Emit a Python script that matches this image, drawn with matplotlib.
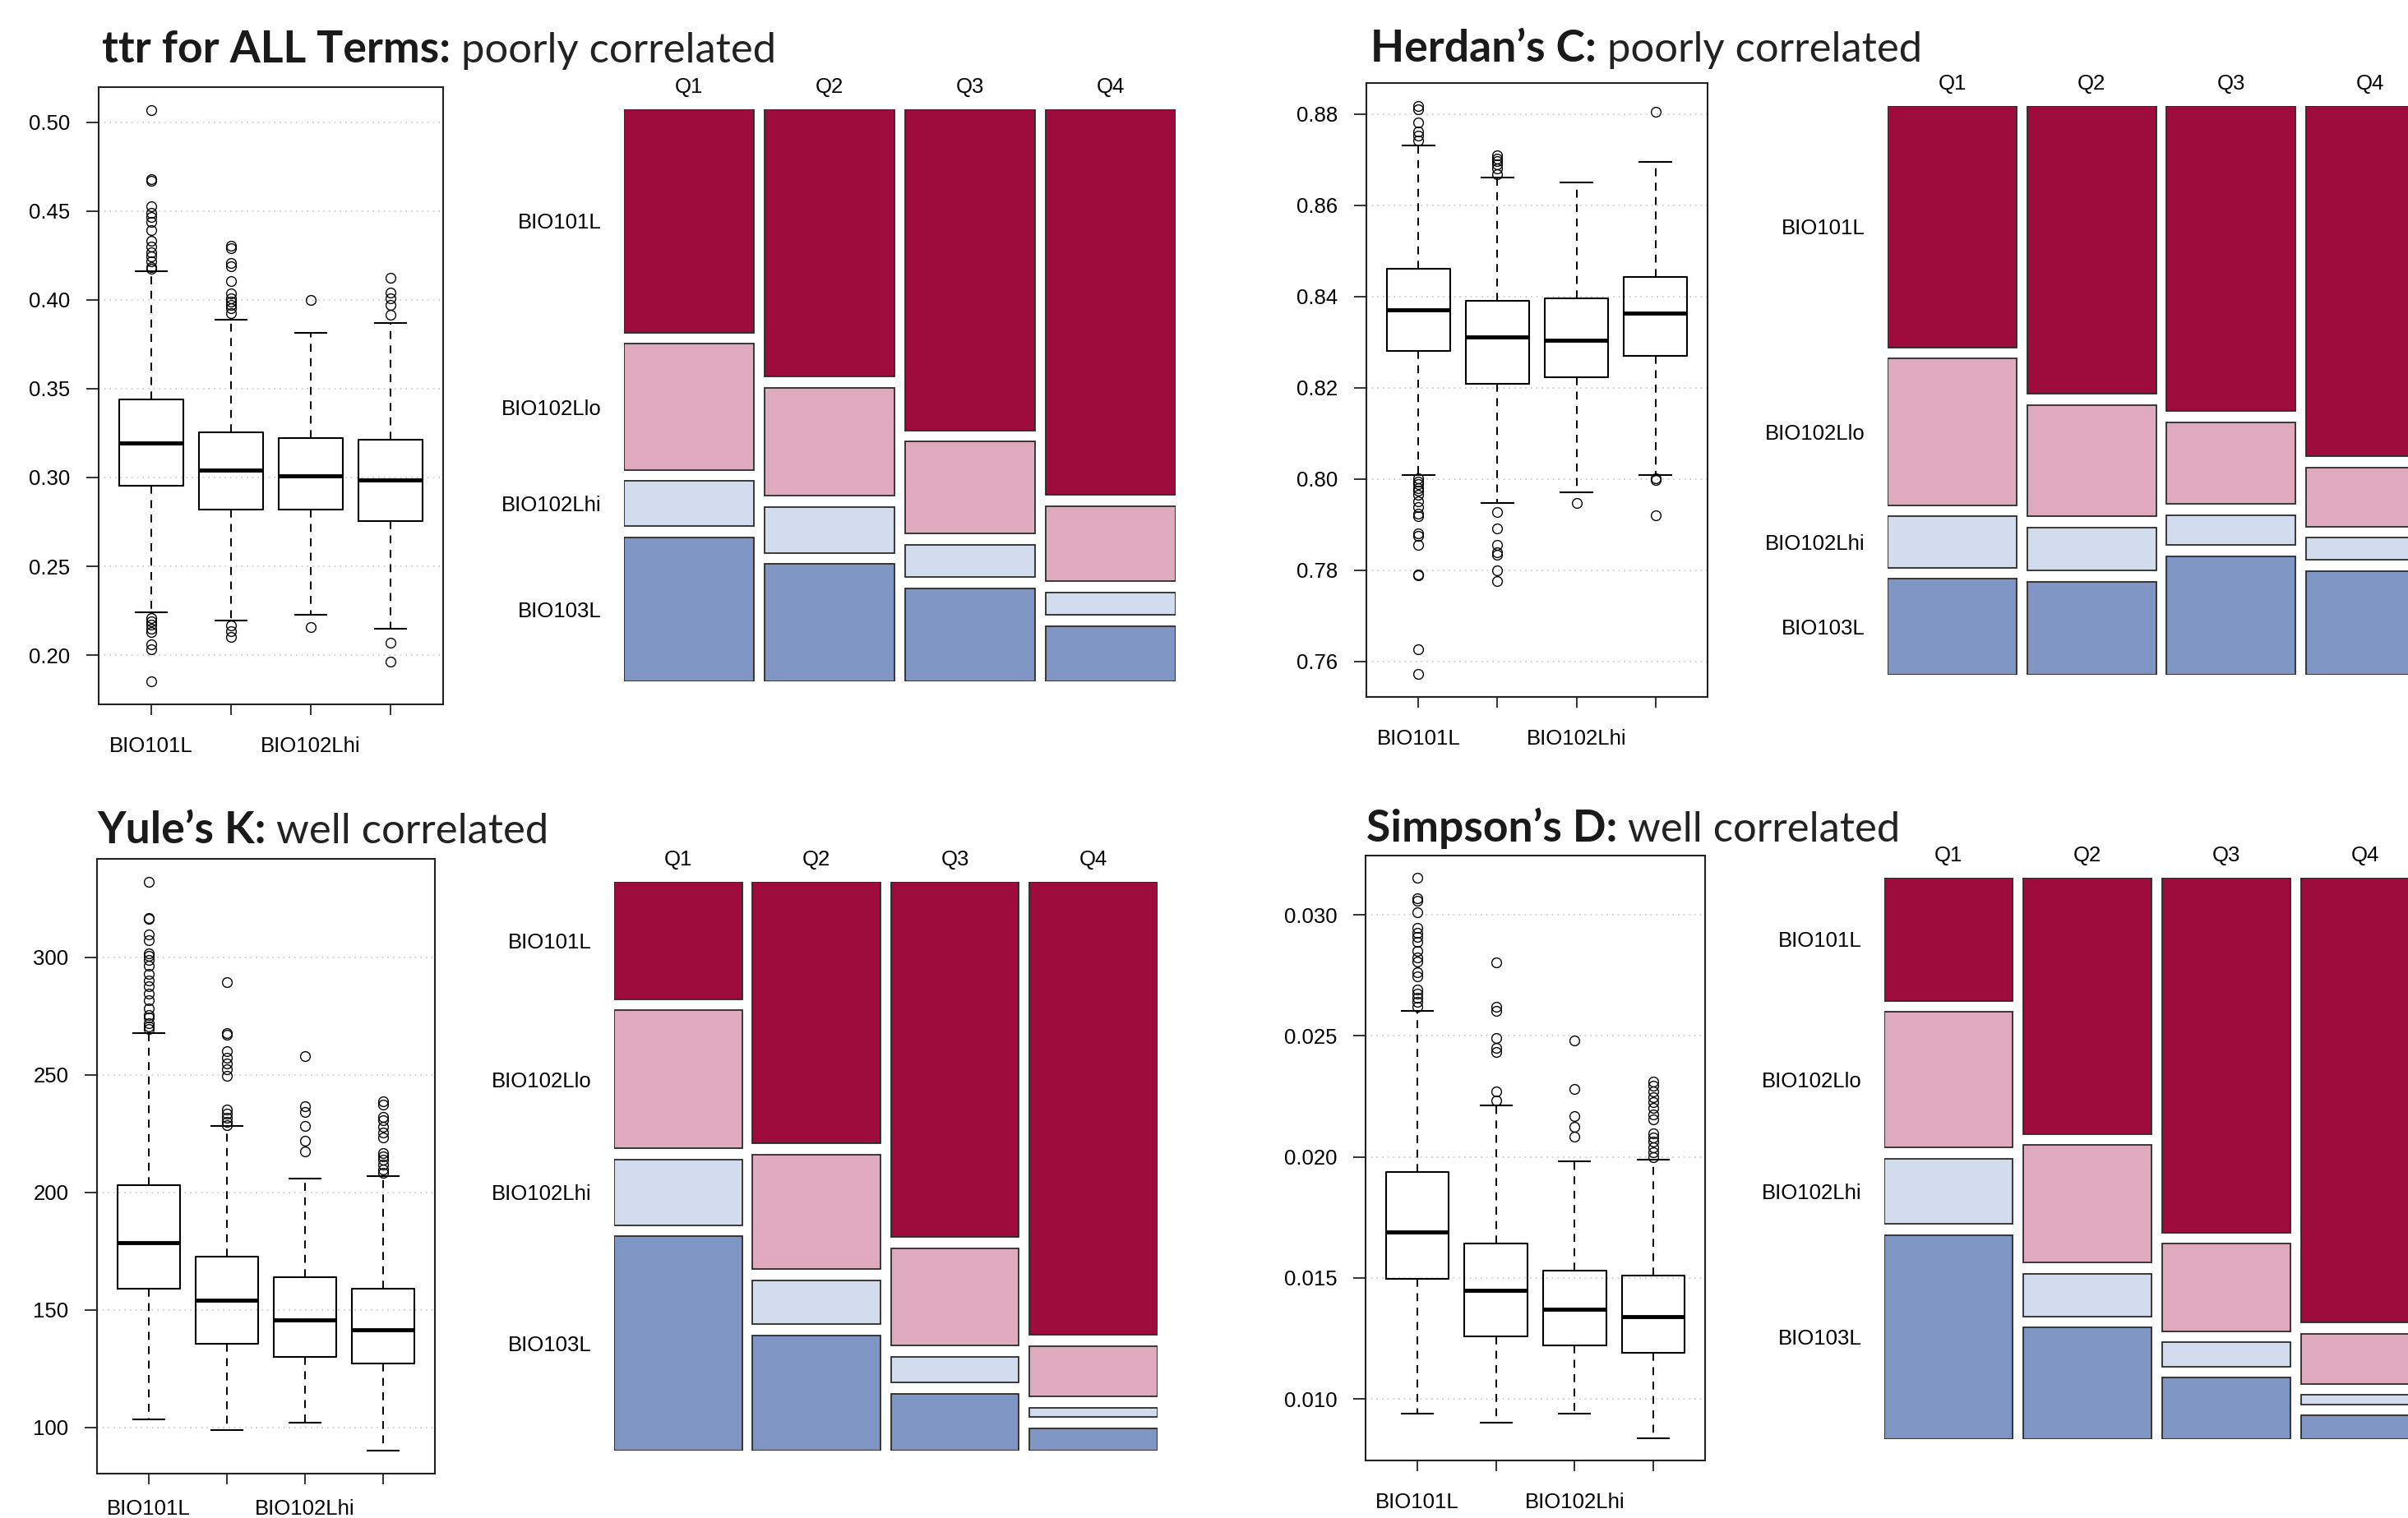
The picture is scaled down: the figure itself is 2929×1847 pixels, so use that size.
import numpy as np
import matplotlib
matplotlib.use('Agg')
import matplotlib.pyplot as plt

W, H = 2929, 1847

courses = ['BIO101L', 'BIO102Llo', 'BIO102Lhi', 'BIO103L']
quartiles = ['Q1', 'Q2', 'Q3', 'Q4']
course_colors = ['#9e0c3e', '#dfa9be', '#d3dcec', '#7f96c5']

# --- ttr for ALL Terms ---
ttr_q1 = [0.2952, 0.2820, 0.2818, 0.2757]
ttr_med = [0.3195, 0.3042, 0.3009, 0.2988]
ttr_q3 = [0.3438, 0.3252, 0.3223, 0.3214]
ttr_lo = [0.2241, 0.2196, 0.2227, 0.2147]
ttr_hi = [0.4159, 0.3890, 0.3815, 0.3871]
ttr_out = [
    [0.5068, 0.468, 0.467, 0.4526, 0.449, 0.4467, 0.4437, 0.439, 0.433, 0.4298, 0.4267,
     0.4246, 0.4215, 0.4185, 0.4173, 0.221, 0.219, 0.217, 0.215, 0.213, 0.206, 0.2035, 0.1852],
    [0.4305, 0.4288, 0.4208, 0.419, 0.4107, 0.4036, 0.4008, 0.399, 0.397, 0.3954, 0.3923,
     0.2168, 0.2137, 0.2104],
    [0.400, 0.2156],
    [0.4123, 0.4039, 0.4008, 0.397, 0.3914, 0.2069, 0.1963],
]
ttr_ticks = [0.20, 0.25, 0.30, 0.35, 0.40, 0.45, 0.50]
# share of each course (rows) within each quartile (columns)
ttr_mosaic = [[0.415, 0.496, 0.596, 0.716],
              [0.234, 0.201, 0.171, 0.139],
              [0.083, 0.085, 0.059, 0.042],
              [0.268, 0.218, 0.173, 0.102]]

# --- Herdan's C ---
herdan_q1 = [0.8280, 0.8209, 0.8223, 0.8269]
herdan_med = [0.8370, 0.8312, 0.8304, 0.8363]
herdan_q3 = [0.8461, 0.8391, 0.8395, 0.8443]
herdan_lo = [0.8008, 0.7948, 0.7971, 0.8009]
herdan_hi = [0.8731, 0.8661, 0.8649, 0.8695]
herdan_out = [
    [0.8818, 0.881, 0.8782, 0.8762, 0.8753, 0.8742, 0.8002, 0.7995, 0.7988, 0.798, 0.7974,
     0.7965, 0.7951, 0.7939, 0.7924, 0.7919, 0.7881, 0.7876, 0.7855, 0.7791, 0.7788, 0.7626, 0.7572],
    [0.871, 0.8703, 0.8696, 0.8689, 0.8681, 0.8667, 0.7927, 0.7891, 0.7856, 0.7839, 0.7834,
     0.78, 0.7777],
    [0.7948],
    [0.8805, 0.8002, 0.7997, 0.7921],
]
herdan_ticks = [0.76, 0.78, 0.80, 0.82, 0.84, 0.86, 0.88]
herdan_mosaic = [[0.451, 0.538, 0.570, 0.655],
                 [0.274, 0.208, 0.152, 0.110],
                 [0.096, 0.080, 0.056, 0.041],
                 [0.179, 0.174, 0.221, 0.194]]

# --- Yule's K ---
yule_q1 = [159.0, 135.8, 130.1, 127.1]
yule_med = [178.7, 154.2, 145.9, 141.7]
yule_q3 = [203.1, 172.8, 163.9, 159.0]
yule_lo = [103.4, 99.0, 102.0, 90.1]
yule_hi = [267.8, 228.2, 206.0, 206.8]
yule_out = [
    [332.2, 316.8, 316.2, 309.7, 307.3, 301.8, 300.6, 298.8, 296.4, 292.9, 290.3, 287.7,
     284.6, 281.6, 278.2, 275.5, 274.5, 272.1, 270.5, 269.5],
    [289.5, 267.8, 267.2, 260.0, 257.3, 254.7, 252.3, 249.6, 235.1, 233.5, 231.6, 230.0, 228.8],
    [258.1, 236.7, 234.3, 228.2, 221.9, 217.5],
    [238.7, 237.5, 232.1, 230.6, 228.0, 225.4, 223.4, 216.9, 215.3, 213.9, 211.8, 209.8, 208.4],
]
yule_ticks = [100, 150, 200, 250, 300]
yule_mosaic = [[0.219, 0.489, 0.665, 0.847],
               [0.257, 0.214, 0.181, 0.094],
               [0.123, 0.082, 0.049, 0.017],
               [0.400, 0.215, 0.106, 0.042]]

# --- Simpson's D ---
simpson_q1 = [0.01496, 0.01259, 0.01221, 0.01190]
simpson_med = [0.01691, 0.01449, 0.01370, 0.01341]
simpson_q3 = [0.01939, 0.01641, 0.01531, 0.01509]
simpson_lo = [0.00939, 0.00901, 0.00939, 0.00839]
simpson_hi = [0.02602, 0.02212, 0.01982, 0.01990]
simpson_out = [
    [0.03152, 0.03069, 0.03057, 0.0301, 0.02945, 0.02927, 0.0291, 0.02888, 0.0285, 0.02824,
     0.02806, 0.02763, 0.02746, 0.02691, 0.02673, 0.02656, 0.02639, 0.0262],
    [0.02803, 0.0262, 0.02602, 0.0249, 0.02452, 0.02435, 0.0227, 0.02232],
    [0.02481, 0.02281, 0.0217, 0.02125, 0.02084],
    [0.0231, 0.02293, 0.0227, 0.02248, 0.02227, 0.02201, 0.02175, 0.02155, 0.02098, 0.02081,
     0.02063, 0.02041, 0.0202, 0.01999],
]
simpson_ticks = [0.010, 0.015, 0.020, 0.025, 0.030]
simpson_mosaic = [[0.233, 0.485, 0.672, 0.843],
                  [0.257, 0.223, 0.166, 0.095],
                  [0.124, 0.081, 0.046, 0.018],
                  [0.386, 0.211, 0.116, 0.045]]

label_font = 'Liberation Sans'
title_font = 'Lato'

fig = plt.figure(figsize=(W / 100, H / 100), dpi=100)
fig.patch.set_facecolor('white')


def px_axes(x0, y0, x1, y1):
    return fig.add_axes([x0 / W, 1 - y1 / H, (x1 - x0) / W, (y1 - y0) / H])


def draw_title(x, y, bold, rest):
    t = fig.text(x / W, 1 - y / H, bold, fontfamily=title_font, fontweight='bold',
                 fontsize=38.5, va='baseline', color='#1a1a1a')
    bb = t.get_window_extent(fig.canvas.get_renderer())
    fig.text((bb.x1 + 13) / W, 1 - y / H, rest, fontfamily=title_font,
             fontsize=36.5, va='baseline', color='#222222')


def draw_box(rect, q1, med, q3, lo, hi, out, ticks, fmt, xpad=19):
    ax = px_axes(*rect)
    stats = []
    for i in range(4):
        stats.append(dict(q1=q1[i], med=med[i], q3=q3[i], whislo=lo[i], whishi=hi[i],
                          fliers=out[i]))
    ax.bxp(stats, positions=[1, 2, 3, 4], widths=0.8, showfliers=True,
           boxprops=dict(color='black', lw=1.5),
           medianprops=dict(color='black', lw=3.5),
           whiskerprops=dict(color='black', lw=1.4, linestyle=(0, (5, 4))),
           capprops=dict(color='black', lw=1.5),
           flierprops=dict(marker='o', markerfacecolor='none', markeredgecolor='black',
                           markersize=8.5, markeredgewidth=1.0))
    allv = np.concatenate([lo, hi, np.concatenate(out)])
    vmin, vmax = allv.min(), allv.max()
    pad = 0.04 * (vmax - vmin)
    ax.set_ylim(vmin - pad, vmax + pad)
    ax.set_xlim(0.34, 4.66)
    ax.set_yticks(ticks)
    ax.set_yticklabels([fmt % t for t in ticks], fontfamily=label_font, fontsize=18.5)
    ax.set_xticks([1, 2, 3, 4])
    ax.set_xticklabels([courses[0], '', courses[2], ''], fontfamily=label_font, fontsize=18.5)
    ax.tick_params(axis='y', length=11, width=1.3, pad=14, color='#222222')
    ax.tick_params(axis='x', length=9, width=1.3, pad=xpad, color='#222222')
    ax.yaxis.grid(True, linestyle=(0, (1, 3)), color='#c8c8c8', lw=1.2)
    ax.set_axisbelow(True)
    for s in ax.spines.values():
        s.set_linewidth(1.5)
        s.set_color('#222222')
    return ax


def draw_mosaic(x0, y0, col_w, gap_px, y1, shares):
    hgap = gap_px / col_w
    ax = px_axes(x0, y0, x0 + 4 * col_w + 3 * gap_px, y1)
    shares = np.array(shares, dtype=float)
    shares = shares / shares.sum(axis=0)
    vgap = 0.021
    xs = np.arange(4) * (1 + hgap) + 0.5
    for j in range(4):
        bottom = 0.0
        for i in range(4):
            ax.bar(xs[j], shares[i, j], width=1, bottom=bottom, color=course_colors[i],
                   edgecolor='#2b2b2b', linewidth=1.3)
            bottom += shares[i, j] + vgap
    ax.set_xlim(0, 4 + 3 * hgap)
    ax.set_ylim(1 + 3 * vgap, 0)
    centers = np.cumsum(shares[:, 0] + vgap) - vgap - shares[:, 0] / 2
    ax.set_yticks(centers)
    ax.set_yticklabels(courses, fontfamily=label_font, fontsize=18.5)
    ax.xaxis.tick_top()
    ax.set_xticks(xs)
    ax.set_xticklabels(quartiles, fontfamily=label_font, fontsize=18.5)
    ax.tick_params(axis='y', length=0, pad=20)
    ax.tick_params(axis='x', length=0, pad=11)
    for s in ax.spines.values():
        s.set_visible(False)
    return ax


# top left
draw_title(124, 76, 'ttr for ALL Terms:', 'poorly correlated')
draw_box((120, 106, 539, 857), ttr_q1, ttr_med, ttr_q3, ttr_lo, ttr_hi, ttr_out, ttr_ticks, '%.2f')
draw_mosaic(759, 133, 158, 13, 829, ttr_mosaic)

# top right
draw_title(1667, 75, 'Herdan\u2019s C:', 'poorly correlated')
draw_box((1662, 101, 2077, 848), herdan_q1, herdan_med, herdan_q3, herdan_lo, herdan_hi,
         herdan_out, herdan_ticks, '%.2f')
draw_mosaic(2296, 129, 157, 12.6, 821, herdan_mosaic)

# bottom left (labels sit right at the lower edge)
draw_title(118, 1026, 'Yule\u2019s K:', 'well correlated')
draw_box((118, 1045, 529, 1793), yule_q1, yule_med, yule_q3, yule_lo, yule_hi, yule_out,
         yule_ticks, '%d', xpad=13)
draw_mosaic(747, 1073, 155.6, 12.8, 1765, yule_mosaic)

# bottom right
draw_title(1662, 1024, 'Simpson\u2019s D:', 'well correlated')
draw_box((1661, 1041, 2074, 1777), simpson_q1, simpson_med, simpson_q3, simpson_lo, simpson_hi,
         simpson_out, simpson_ticks, '%.3f')
draw_mosaic(2292, 1068, 156.3, 12.6, 1751, simpson_mosaic)

fig.savefig('out.png', dpi=100)
